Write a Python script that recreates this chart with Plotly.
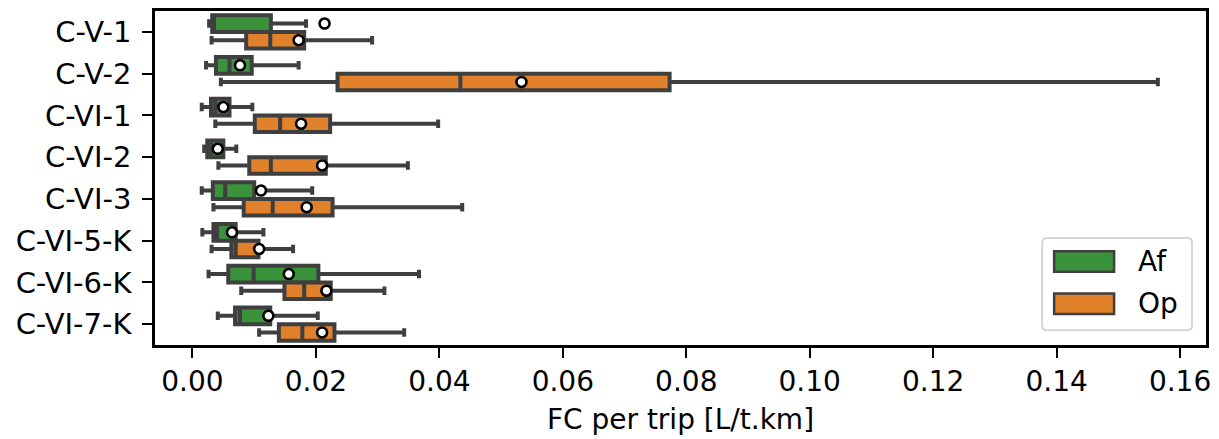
import plotly.graph_objects as go

categories = ["C-V-1", "C-V-2", "C-VI-1", "C-VI-2", "C-VI-3", "C-VI-5-K", "C-VI-6-K", "C-VI-7-K"]
hues = ["Af", "Op"]

af_lower = [0.0027, 0.0022, 0.0015, 0.0019, 0.0015, 0.0016, 0.0026, 0.0041]
af_q1 = [0.0032, 0.0038, 0.0030, 0.0024, 0.0033, 0.0034, 0.0058, 0.0069]
af_median = [0.0035, 0.0060, 0.0037, 0.0030, 0.0053, 0.0040, 0.0099, 0.0077]
af_q3 = [0.0127, 0.0096, 0.0060, 0.0050, 0.0100, 0.0070, 0.0204, 0.0126]
af_upper = [0.0184, 0.0172, 0.0097, 0.0071, 0.0194, 0.0115, 0.0367, 0.0203]
af_mean = [0.0214, 0.0077, 0.0050, 0.0041, 0.0111, 0.0064, 0.0156, 0.0123]

op_lower = [0.0031, 0.0046, 0.0037, 0.0042, 0.0034, 0.0031, 0.0079, 0.0108]
op_q1 = [0.0087, 0.0235, 0.0101, 0.0092, 0.0083, 0.0063, 0.0149, 0.0140]
op_median = [0.0126, 0.0434, 0.0142, 0.0127, 0.0130, 0.0070, 0.0181, 0.0178]
op_q3 = [0.0181, 0.0773, 0.0223, 0.0216, 0.0227, 0.0107, 0.0224, 0.0230]
op_upper = [0.0291, 0.1564, 0.0398, 0.0349, 0.0437, 0.0163, 0.0311, 0.0343]
op_mean = [0.0172, 0.0533, 0.0176, 0.0210, 0.0185, 0.0108, 0.0217, 0.0210]

x_ticks = [0.00, 0.02, 0.04, 0.06, 0.08, 0.10, 0.12, 0.14, 0.16]

colors = {"Af": "#3a923a", "Op": "#e1812c"}
edge = "#3f3f3f"
font_family = "DejaVu Sans"

fig = go.Figure()

stats = {
    "Af": (af_lower, af_q1, af_median, af_q3, af_upper, af_mean),
    "Op": (op_lower, op_q1, op_median, op_q3, op_upper, op_mean),
}

for h in hues:
    lo, q1, med, q3, up, mn = stats[h]
    fig.add_trace(go.Box(
        y=categories, q1=q1, median=med, q3=q3, lowerfence=lo, upperfence=up,
        orientation="h", name=h, offsetgroup=h,
        fillcolor=colors[h], line=dict(color=edge, width=4),
        whiskerwidth=0.5, boxpoints=False, showlegend=False, hoverinfo="skip",
    ))

for h in hues:
    mn = stats[h][5]
    fig.add_trace(go.Scatter(
        x=mn, y=categories, mode="markers", orientation="h", offsetgroup=h,
        marker=dict(color="white", size=10, line=dict(color="black", width=2.6)),
        showlegend=False, hoverinfo="skip",
    ))

# custom legend (matplotlib style, rounded frame)
L, R, T, B = 155, 1207, 8, 348
def px(x):
    return (x - L) / (R - L)
def py(y):
    return (B - y) / (B - T)

lx0, lx1, ly0, ly1, rad = 1043, 1193, 239, 333, 5
path = (
    f"M {px(lx0 + rad)},{py(ly0)} L {px(lx1 - rad)},{py(ly0)} "
    f"Q {px(lx1)},{py(ly0)} {px(lx1)},{py(ly0 + rad)} "
    f"L {px(lx1)},{py(ly1 - rad)} Q {px(lx1)},{py(ly1)} {px(lx1 - rad)},{py(ly1)} "
    f"L {px(lx0 + rad)},{py(ly1)} Q {px(lx0)},{py(ly1)} {px(lx0)},{py(ly1 - rad)} "
    f"L {px(lx0)},{py(ly0 + rad)} Q {px(lx0)},{py(ly0)} {px(lx0 + rad)},{py(ly0)} Z"
)
fig.add_shape(type="path", xref="paper", yref="paper", path=path,
              line=dict(color="#d6d6d6", width=2), fillcolor="rgba(255,255,255,0.8)", layer="above")
for i, h in enumerate(hues):
    yc = 263 + i * 43
    fig.add_shape(type="rect", xref="paper", yref="paper",
                  x0=px(1055), x1=px(1115), y0=py(yc + 10.5), y1=py(yc - 10.5),
                  line=dict(color=edge, width=2.5), fillcolor=colors[h], layer="above")
    fig.add_annotation(xref="paper", yref="paper", x=px(1137), y=py(yc),
                       text=h, showarrow=False, xanchor="left", yanchor="middle",
                       font=dict(family=font_family, size=28, color="black"))

fig.update_layout(
    width=1219, height=439,
    margin=dict(l=L, r=1219 - R, t=T, b=439 - B),
    paper_bgcolor="white", plot_bgcolor="white",
    font=dict(family=font_family, size=28, color="black"),
    boxmode="group", boxgap=0.2, boxgroupgap=0.0,
    scattermode="group", scattergap=0.2,
    showlegend=False,
)
fig.update_xaxes(
    range=[-0.00607, 0.1642], tickvals=x_ticks, tickformat=".2f",
    tickfont=dict(family=font_family, size=28),
    showline=True, mirror=True, linecolor="black", linewidth=2.5,
    ticks="outside", ticklen=10, tickwidth=2.2, tickcolor="black",
    showgrid=False, zeroline=False,
    title=dict(text="FC per trip [L/t.km]", standoff=13,
               font=dict(family=font_family, size=28)),
)
fig.update_yaxes(
    type="category", categoryorder="array", categoryarray=categories,
    range=[7.5, -0.5],
    tickfont=dict(family=font_family, size=29),
    showline=True, mirror=True, linecolor="black", linewidth=2.5,
    ticks="outside", ticklen=10, tickwidth=2.2, tickcolor="black",
    ticklabelstandoff=5,
    showgrid=False, zeroline=False,
)

fig.write_html("out.html")
